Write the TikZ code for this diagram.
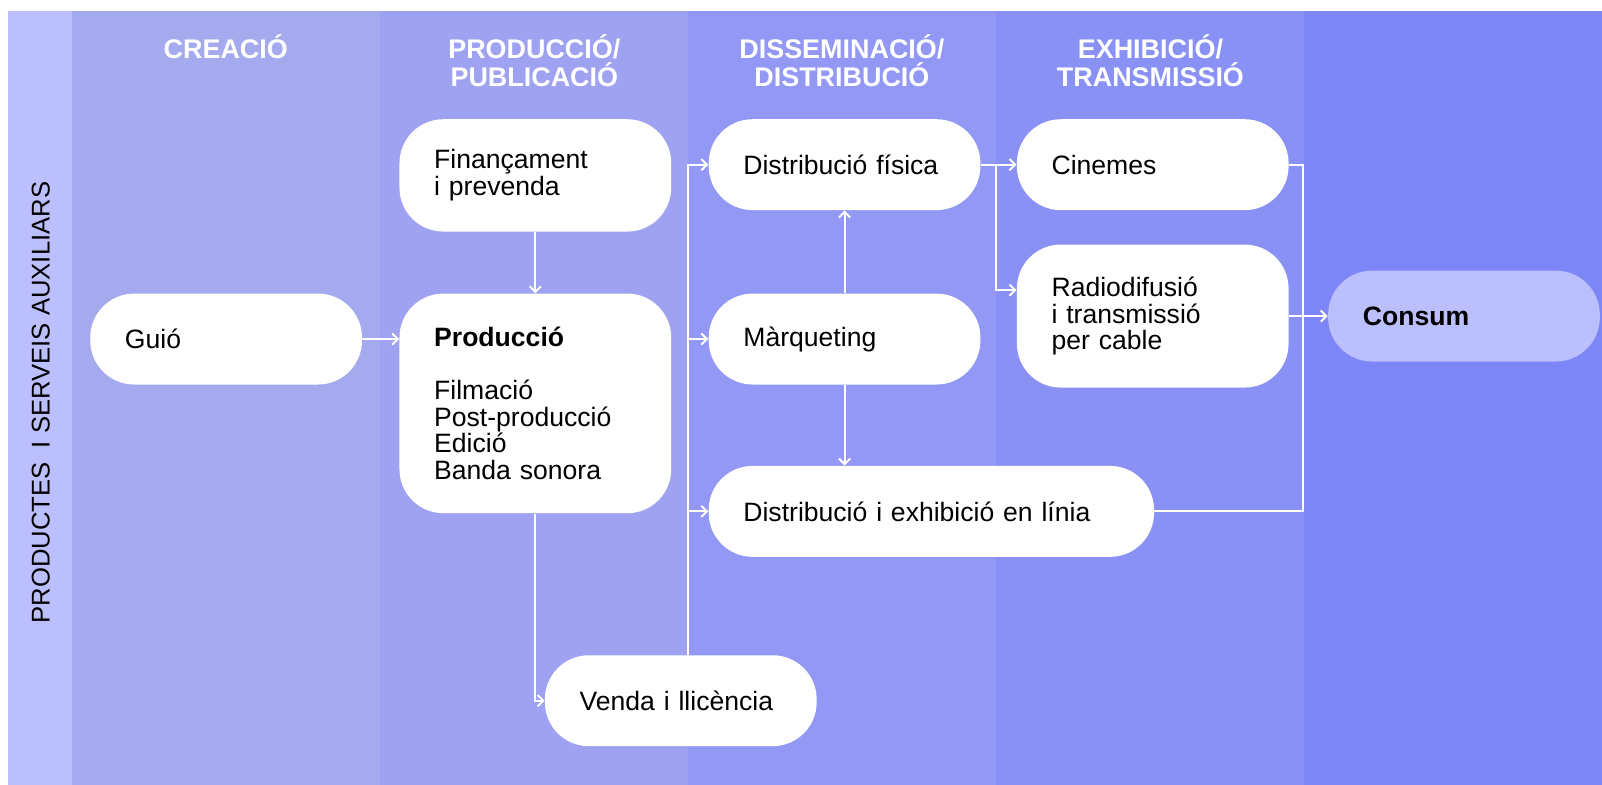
\documentclass[tikz,border=0pt]{standalone}
\usepackage{fontspec}
\setmainfont{Liberation Sans}
\usetikzlibrary{arrows.meta, positioning}
\definecolor{bandside}{HTML}{BBBFFD}
\definecolor{banda}{HTML}{A5AAEF}
\definecolor{bandb}{HTML}{9EA2F0}
\definecolor{bandc}{HTML}{9298F4}
\definecolor{bandd}{HTML}{8A91F4}
\definecolor{bande}{HTML}{7C86F6}
\definecolor{consumfill}{HTML}{BBBFFE}
\tikzset{
    stage/.style={
        rectangle,
        rounded corners=0.86cm,
        fill=white,
        text=black,
        minimum height=1.78cm,
        text width=3.96cm,
        inner xsep=0.68cm,
        inner ysep=0pt,
        align=left,
        font=\fontsize{14.8}{14.8}\selectfont
    },
    header/.style={
        text=white,
        align=center,
        anchor=north,
        inner sep=0pt,
        font=\bfseries\fontsize{15}{15.3}\selectfont
    },
    flow/.style={
        -{Straight Barb[length=1.1mm,width=2.2mm]},
        draw=white,
        line width=1.1pt
    }
}

\begin{document}
\begin{tikzpicture}[x=0.02cm, y=-0.02cm, node distance=7.2mm]
    \useasboundingbox (0,0) rectangle (1568,768);
    % column bands
    \foreach \xa/\xb/\col in {8/70/bandside, 70/372/banda, 372/673/bandb, 673/975/bandc, 975/1276/bandd, 1276/1568/bande}
        \fill[\col] (\xa,11) rectangle (\xb,768);

    \node[header] (hcrea) at (221,34)  {CREACIÓ};
    \node[header] (hprod) at (523,34)  {PRODUCCIÓ/\\PUBLICACIÓ};
    \node[header] (hdist) at (824,34)  {DISSEMINACIÓ/\\DISTRIBUCIÓ};
    \node[header] (hexhi) at (1126,34) {EXHIBICIÓ/\\TRANSMISSIÓ};
    \node[rotate=90, font=\fontsize{14.3}{14.3}\selectfont] (aux) at (40,394) {PRODUCTES\ \ I SERVEIS AUXILIARS};

    \node[stage, anchor=north west] (guio) at (88,287) {Guió};
    \node[stage, minimum height=4.3cm, right=of guio.north east, anchor=north west] (prod) {\textbf{Producció}\\[14.8pt]Filmació\\Post-producció\\Edició\\Banda sonora};
    \node[stage, minimum height=2.2cm, above=1.2cm of prod] (finan) {Finançament\\i prevenda};
    \node[stage, right=of finan.north east, anchor=north west] (dfis) {Distribució física};
    \node[stage, right=of prod.north east, anchor=north west] (marq) {Màrqueting};
    \node[stage, text width=7.36cm, below=1.58cm of marq.south west, anchor=north west] (dlinia) {Distribució i exhibició en línia};
    \node[stage, anchor=north west] (venda) at (533,641) {Venda i llicència};
    \node[stage, right=7mm of dfis.north east, anchor=north west] (cine) {Cinemes};
    \node[stage, minimum height=2.8cm, below=6.6mm of cine.south west, anchor=north west] (radio) {Radiodifusió\\i transmissió\\per cable};
    \node[stage, fill=consumfill, right=7.6mm of radio] (consum) {\textbf{Consum}};

    \coordinate (spine) at (673,0);
    \coordinate (fork)  at (975,0);
    \coordinate (merge) at (1275,0);

    \draw[flow] (guio.east) -- (guio.east -| prod.west);
    \draw[flow] (finan) -- (prod);
    \draw[flow] (prod.south) |- (venda.west);
    \draw[flow] (venda.north -| spine) |- (dfis.west);
    \draw[flow] (spine |- marq.west) -- (marq.west);
    \draw[flow] (spine |- dlinia.west) -- (dlinia.west);
    \draw[flow] (marq) -- (dfis);
    \draw[flow] (marq.south) -- (marq.south |- dlinia.north);
    \draw[flow] (dfis.east) -- (dfis.east -| cine.west);
    \draw[flow] (fork |- dfis.east) |- ([yshift=-9mm]radio.north west);
    \draw[white, line width=1.1pt] (cine.east) -| (merge |- dlinia.east) -- (dlinia.east);
    \draw[flow] (radio.east) -- (consum.west);
\end{tikzpicture}
\end{document}
